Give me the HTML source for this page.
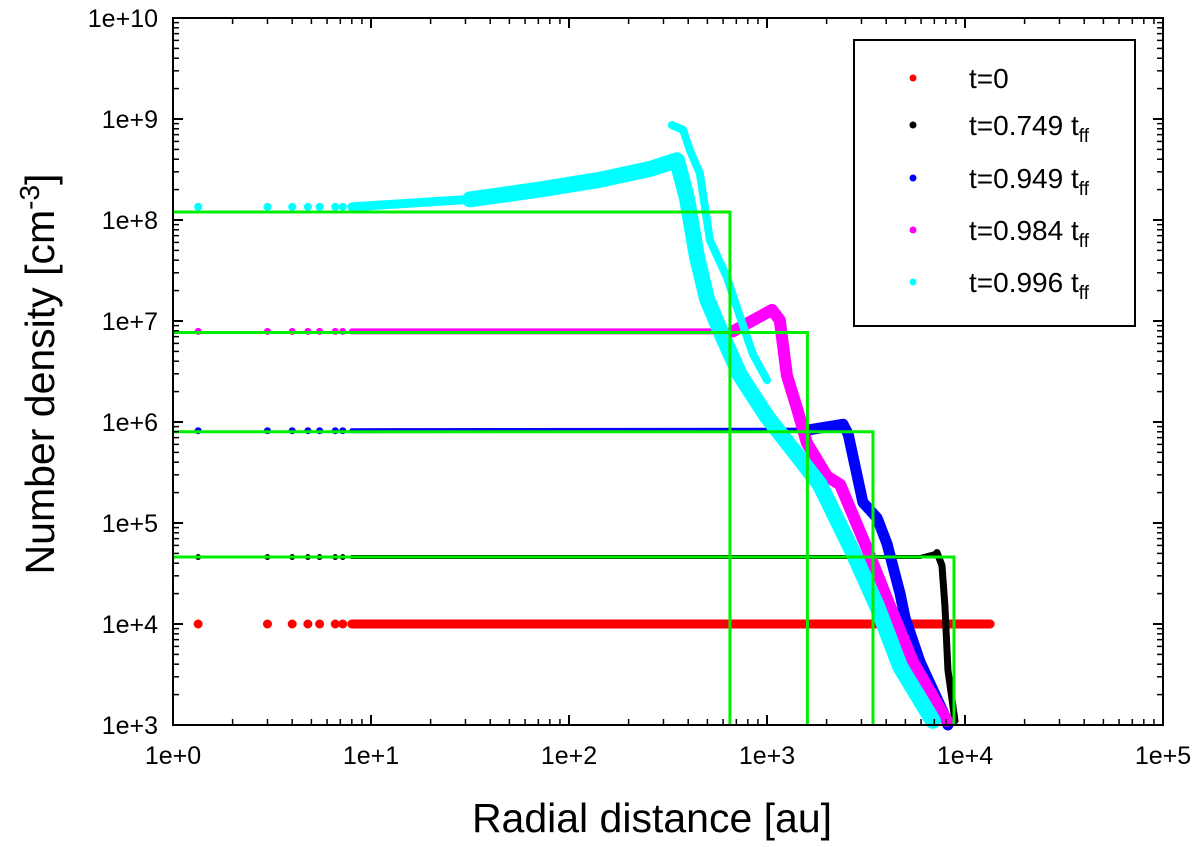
<!DOCTYPE html>
<html><head><meta charset="utf-8"><style>
html,body{margin:0;padding:0;background:#fff;}
svg{display:block;font-family:"Liberation Sans",Arial,sans-serif;}
</style></head><body>
<svg id="chart" width="1200" height="847" viewBox="0 0 1200 847" xmlns="http://www.w3.org/2000/svg">
<g id="marks"></g>
<g id="frame"></g>
</svg>
<script>
const xTickLabels=["1e+0","1e+1","1e+2","1e+3","1e+4","1e+5"];
const yTickLabels=["1e+3","1e+4","1e+5","1e+6","1e+7","1e+8","1e+9","1e+10"];
const sparseR=[1.34,3,4,4.8,5.5,6.6,7.2];
// red t=0
const redR=[8,13400];
const redN=[1e4,1e4];
// black t=0.749
const blackR=[8,5930,7220,7650,7920,8200,8900];
const blackN=[4.6e4,4.6e4,5.1e4,3.8e4,1.5e4,3500,1100];
// blue t=0.949
const blueR=[8,1590,2420,2570,3050,3600,4040,4700,4980,5930,7740,8200];
const blueN=[8.2e5,8.3e5,9.5e5,7.6e5,1.6e5,1.12e5,6.2e4,2.0e4,1.15e4,4200,1350,1000];
// magenta t=0.984
const pinkR=[8,673,1060,1160,1260,1420,1590,2010,2340,3200,4180,5460,8110];
const pinkN=[7.9e6,7.9e6,1.29e7,1.02e7,2.9e6,1.35e6,6.2e5,2.9e5,2.4e5,5.6e4,1.5e4,4200,1100];
// cyan t=0.996
const cyanR=[8,31.6,71,143,256,351,394,443,498,600,731,1000,1470,1850,2720,3600,4700,6890];
const cyanN=[1.35e8,1.6e8,2.0e8,2.5e8,3.2e8,3.9e8,1.65e8,4.3e7,1.65e7,6.9e6,2.9e6,1.13e6,4.3e5,2.4e5,5.1e4,1.5e4,3800,1100];
const cyanUpperR=[331,377,408,458,515,628,731,849,1000];
const cyanUpperN=[8.7e8,7.8e8,4.9e8,2.9e8,6.3e7,2.7e7,1.1e7,4.7e6,2.6e6];
// green step model
const stepN=[1.2e8,7.7e6,8e5,4.6e4];
const stepR=[650,1600,3430,8800];

const NS="http://www.w3.org/2000/svg";
const X0=173,DX=198,Y0=725,DY=101;
const xs=r=>X0+Math.log10(r)*DX;
const ys=n=>Y0-(Math.log10(n)-3)*DY;
const marks=document.getElementById('marks');
const frame=document.getElementById('frame');
function mk(tag,attrs,parent){const e=document.createElementNS(NS,tag);for(const k in attrs)e.setAttribute(k,attrs[k]);parent.appendChild(e);return e;}
function clipN(n){return Math.max(n,1000);}

function series(name,color,R,N,wFlat,wSlope,sparse,dotR){
  const g=mk('g',{},marks);
  
  
  if(sparse){sparse.forEach(r=>{const c=mk('circle',{cx:xs(r),cy:ys(N[0]),r:dotR,fill:color},g);
    
    });}
  const pts=R.map((r,i)=>xs(r)+','+ys(clipN(N[i]))).join(' ');
  const p=mk('polyline',{points:pts,fill:'none',stroke:color,'stroke-width':wFlat,'stroke-linecap':'round','stroke-linejoin':'round'},g);
  
  
  if(wSlope>wFlat){
    const k=N.findIndex((n,i)=>i>1&&Math.abs(Math.log10(n)-Math.log10(N[0]))>0.05);
    const s=Math.max(1,k-1);
    const pts2=R.slice(s).map((r,i)=>xs(r)+','+ys(clipN(N[s+i]))).join(' ');
    const p2=mk('polyline',{points:pts2,fill:'none',stroke:color,'stroke-width':wSlope,'stroke-linecap':'round','stroke-linejoin':'round'},g);
    
    
  }
}
series('series-t0','#ff0000',redR,redN,9,0,sparseR,4.5);
series('series-t0749','#000000',blackR,blackN,4,7,sparseR,3);
series('series-t0949','#0000ff',blueR,blueN,5,11,sparseR,3.5);
series('series-t0984','#ff00ff',pinkR,pinkN,6,12,sparseR,3.5);
series('series-t0996','#00ffff',cyanR,cyanN,9,16,sparseR,4);
series('series-t0996-upper','#00ffff',cyanUpperR,cyanUpperN,8,0,null,0);

// green steps
stepN.forEach((n,i)=>{
  const p=mk('polyline',{points:`${X0},${ys(n)} ${xs(stepR[i])},${ys(n)} ${xs(stepR[i])},${Y0}`,fill:'none',stroke:'#00ee00','stroke-width':3},marks);
  
  
});

// frame
const box=mk('rect',{x:X0,y:18,width:990,height:707,fill:'none',stroke:'#000','stroke-width':2},frame);


xTickLabels.forEach((lab,i)=>{
  const x=X0+i*DX;
  mk('line',{x1:x,y1:Y0,x2:x,y2:Y0-10,stroke:'#000','stroke-width':2},frame);
  mk('line',{x1:x,y1:18,x2:x,y2:28,stroke:'#000','stroke-width':2},frame);
  if(i<5)for(let m=2;m<10;m++){const xm=x+Math.log10(m)*DX;
    mk('line',{x1:xm,y1:Y0,x2:xm,y2:Y0-6,stroke:'#000','stroke-width':1.5},frame);
    mk('line',{x1:xm,y1:18,x2:xm,y2:24,stroke:'#000','stroke-width':1.5},frame);}
  const t=mk('text',{x:x,y:764,'font-size':25,'text-anchor':'middle',fill:'#000'},frame);
  t.textContent=lab;
  
  
});
yTickLabels.forEach((lab,i)=>{
  const y=Y0-i*DY;
  mk('line',{x1:X0,y1:y,x2:X0+10,y2:y,stroke:'#000','stroke-width':2},frame);
  mk('line',{x1:X0+990,y1:y,x2:X0+980,y2:y,stroke:'#000','stroke-width':2},frame);
  if(i<7)for(let m=2;m<10;m++){const ym=y-Math.log10(m)*DY;
    mk('line',{x1:X0,y1:ym,x2:X0+6,y2:ym,stroke:'#000','stroke-width':1.5},frame);
    mk('line',{x1:X0+990,y1:ym,x2:X0+984,y2:ym,stroke:'#000','stroke-width':1.5},frame);}
  const t=mk('text',{x:158,y:y+9,'font-size':25,'text-anchor':'end',fill:'#000'},frame);
  t.textContent=lab;
  
  
});
</script>
<svg style="position:absolute;left:0;top:0" width="1200" height="847">
<text x="652" y="832" font-size="41" text-anchor="middle" font-family="Liberation Sans, sans-serif">Radial distance [au]</text>
<text transform="translate(54,374) rotate(-90)" font-size="41" text-anchor="middle" font-family="Liberation Sans, sans-serif">Number density [cm<tspan dy="-15" font-size="28">-3</tspan><tspan dy="15">]</tspan></text>
<g font-family="Liberation Sans, sans-serif" font-size="28">
<rect x="854" y="40" width="281" height="286" fill="#fff" stroke="#000" stroke-width="2"/>
<g><circle cx="913" cy="78" r="3.5" fill="#ff0000"/><text x="969" y="88">t=0</text></g>
<g><circle cx="913" cy="125" r="3.5" fill="#000"/><text x="969" y="135">t=0.749 t<tspan dy="7" font-size="19">ff</tspan></text></g>
<g><circle cx="913" cy="178" r="3.5" fill="#0000ff"/><text x="969" y="188">t=0.949 t<tspan dy="7" font-size="19">ff</tspan></text></g>
<g><circle cx="913" cy="230" r="3.5" fill="#ff00ff"/><text x="969" y="240">t=0.984 t<tspan dy="7" font-size="19">ff</tspan></text></g>
<g><circle cx="913" cy="282" r="3.5" fill="#00ffff"/><text x="969" y="292">t=0.996 t<tspan dy="7" font-size="19">ff</tspan></text></g>
</g>
</svg>
</body></html>
